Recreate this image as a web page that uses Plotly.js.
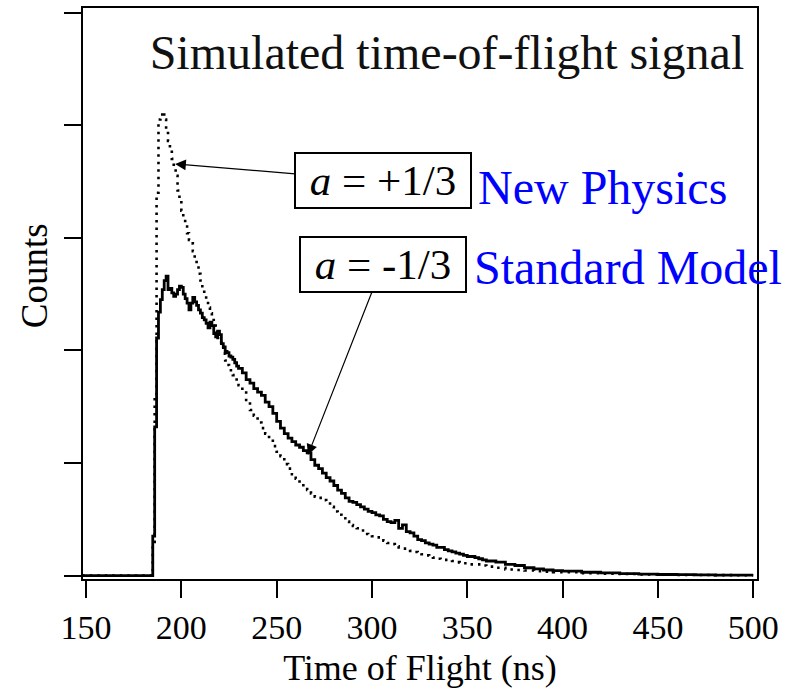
<!DOCTYPE html>
<html>
<head>
<meta charset="utf-8">
<script src="https://cdn.plot.ly/plotly-3.0.1.min.js"></script>
<style>
  html, body { margin: 0; padding: 0; background: #fff; }
  #chart { width: 796px; height: 695px; }
</style>
</head>
<body>
<div id="chart"></div>
<script>
// Time of flight bins (ns)
const tof = [148,184,185,186,187,188,189,190,191,192,193,194,195,196,197,198,199,200,
  201,202,203,204,205,206,207,208,209,210,211,212,213,214,215,216,217,218,219,220,
  221,222,223,224,225,226,227,228,229,230,232,234,236,238,240,242,244,246,248,250,
  252,254,256,258,260,262,264,266,268,270,272,274,276,278,280,282,284,286,288,290,
  292,294,296,298,300,302,304,306,308,310,312,314,316,318,320,322,324,326,328,330,
  332,334,336,338,340,342,344,346,348,350,352,354,356,358,360,365,370,375,380,385,
  390,395,400,410,420,430,440,450,460,470,480,490,500];

// Standard Model (a = -1/3), solid histogram
const countsSM = [0,0,0.35,1.32,2.11,2.34,2.45,2.54,2.62,2.66,2.54,2.55,2.51,2.48,2.50,2.54,2.57,2.56,
  2.50,2.46,2.42,2.36,2.42,2.47,2.43,2.40,2.36,2.33,2.29,2.27,2.24,2.20,2.25,2.22,2.15,2.12,2.17,2.14,
  2.06,2.03,1.99,1.98,1.95,1.94,1.92,1.89,1.86,1.84,1.80,1.74,1.71,1.66,1.63,1.60,1.54,1.50,1.44,1.37,
  1.31,1.26,1.22,1.19,1.16,1.14,1.11,1.09,1.03,0.98,0.95,0.91,0.87,0.84,0.80,0.76,0.73,0.69,0.66,0.65,
  0.63,0.61,0.59,0.57,0.56,0.54,0.53,0.50,0.48,0.47,0.49,0.42,0.45,0.39,0.38,0.35,0.32,0.31,0.29,0.28,
  0.27,0.25,0.25,0.23,0.22,0.21,0.20,0.19,0.18,0.17,0.17,0.16,0.15,0.14,0.13,0.12,0.10,0.09,0.07,0.06,
  0.05,0.045,0.04,0.03,0.025,0.018,0.014,0.01,0.008,0.006,0.005,0.004,0.004];

// New Physics (a = +1/3), dotted
const countsNP = [0,0,0.3,1.6,3.4,4.05,4.08,4.12,4.05,3.95,3.86,3.78,3.70,3.62,3.55,3.42,3.33,3.24,
  3.17,3.10,3.04,2.98,2.95,2.88,2.82,2.77,2.68,2.62,2.55,2.47,2.42,2.38,2.33,2.27,2.22,2.16,2.11,2.07,
  2.03,1.97,1.91,1.87,1.84,1.81,1.78,1.76,1.73,1.69,1.64,1.56,1.47,1.42,1.36,1.31,1.26,1.21,1.15,1.10,
  1.06,0.99,0.95,0.90,0.86,0.82,0.79,0.76,0.73,0.70,0.69,0.67,0.64,0.61,0.57,0.54,0.51,0.48,0.45,0.44,
  0.42,0.40,0.37,0.36,0.35,0.34,0.34,0.31,0.29,0.28,0.26,0.25,0.24,0.23,0.22,0.21,0.20,0.19,0.18,0.17,
  0.16,0.15,0.14,0.14,0.14,0.13,0.12,0.115,0.11,0.10,0.10,0.10,0.10,0.09,0.08,0.07,0.055,0.05,0.045,0.04,
  0.035,0.03,0.03,0.022,0.018,0.014,0.01,0.008,0.006,0.005,0.004,0.003,0.003];

const xTicks = [150,200,250,300,350,400,450,500];
const yTicks = [0,1,2,3,4,5];

const FONT = "'Liberation Serif', 'Times New Roman', serif";

const traces = [
  {
    x: tof, y: countsNP, type: 'scatter', mode: 'lines',
    line: {color: '#000', width: 2.6, dash: '2.5px,5px', shape: 'hv'},
    showlegend: false, hoverinfo: 'skip'
  },
  {
    x: tof, y: countsSM, type: 'scatter', mode: 'lines',
    line: {color: '#000', width: 2.8, shape: 'hv'},
    showlegend: false, hoverinfo: 'skip'
  }
];

const layout = {
  width: 796, height: 695,
  margin: {l: 83, r: 39, t: 8, b: 116},
  paper_bgcolor: '#fff', plot_bgcolor: '#fff',
  font: {family: FONT, color: '#000'},
  showlegend: false,
  title: {
    text: 'Simulated time-of-flight signal',
    font: {family: FONT, size: 48, color: '#111'},
    xref: 'paper', yref: 'paper', x: 0.54, y: 0.922,
    xanchor: 'center', yanchor: 'middle'
  },
  xaxis: {
    range: [148.4, 502],
    tickvals: xTicks, ticktext: xTicks.map(String),
    ticks: 'outside', ticklen: 17, tickwidth: 2, tickcolor: '#000',
    showline: true, linewidth: 2, linecolor: '#000', mirror: true,
    showgrid: false, zeroline: false,
    tickfont: {family: FONT, size: 34, color: '#000'},
    title: {text: 'Time of Flight (ns)', font: {family: FONT, size: 36, color: '#000'}, standoff: 10}
  },
  yaxis: {
    range: [-0.03, 5.04],
    tickvals: yTicks, showticklabels: false,
    ticks: 'outside', ticklen: 17, tickwidth: 2, tickcolor: '#000',
    showline: true, linewidth: 2, linecolor: '#000', mirror: true,
    showgrid: false, zeroline: false
  },
  annotations: [
    {
      x: -0.072, y: 0.531, xref: 'paper', yref: 'paper',
      text: 'Counts', showarrow: false, textangle: -90,
      xanchor: 'center', yanchor: 'middle',
      font: {family: FONT, size: 37, color: '#000'}
    },
    {
      x: 196.7, y: 3.655, xref: 'x', yref: 'y',
      ax: 208, ay: 17, axref: 'pixel', ayref: 'pixel',
      text: '&nbsp;<i>a</i> = +1/3&nbsp;',
      font: {family: FONT, size: 43, color: '#000'},
      showarrow: true, arrowhead: 2, arrowsize: 1.8, arrowwidth: 1.2, arrowcolor: '#000',
      bordercolor: '#000', borderwidth: 2, borderpad: 3, bgcolor: '#fff'
    },
    {
      x: 266.4, y: 1.071, xref: 'x', yref: 'y',
      ax: 75, ay: -191, axref: 'pixel', ayref: 'pixel',
      text: '&nbsp;<i>a</i> = -1/3&nbsp;',
      font: {family: FONT, size: 43, color: '#000'},
      showarrow: true, arrowhead: 2, arrowsize: 1.8, arrowwidth: 1.2, arrowcolor: '#000',
      bordercolor: '#000', borderwidth: 2, borderpad: 3, bgcolor: '#fff'
    },
    {
      x: 0.7715, y: 0.685, xref: 'paper', yref: 'paper',
      text: 'New Physics', showarrow: false,
      xanchor: 'center', yanchor: 'middle',
      font: {family: FONT, size: 48, color: '#0000ff'}
    },
    {
      x: 0.8086, y: 0.545, xref: 'paper', yref: 'paper',
      text: 'Standard Model', showarrow: false,
      xanchor: 'center', yanchor: 'middle',
      font: {family: FONT, size: 48, color: '#0000ff'}
    }
  ]
};

Plotly.newPlot('chart', traces, layout, {staticPlot: true, displayModeBar: false});
</script>
</body>
</html>
